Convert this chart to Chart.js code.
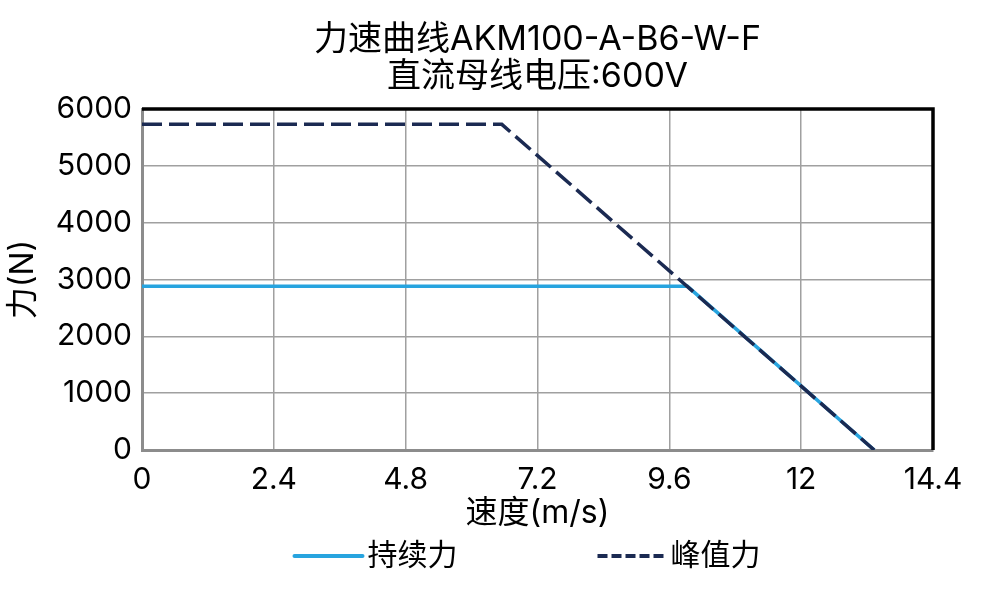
<!DOCTYPE html>
<html>
<head>
<meta charset="utf-8">
<script src="https://cdn.jsdelivr.net/npm/chart.js@4.4.1/dist/chart.umd.min.js"></script>
<style>
  html, body { margin: 0; padding: 0; background: #fff; }
  #wrap { width: 996px; height: 597px; }
</style>
</head>
<body>
<div id="wrap"><canvas id="myChart"></canvas></div>
<script>
const titleLines = ["力速曲线AKM100-A-B6-W-F", "直流母线电压:600V"];
const xAxisTitle = "速度(m/s)";
const yAxisTitle = "力(N)";
const seriesNames = ["持续力", "峰值力"];

const xTicks = [0, 2.4, 4.8, 7.2, 9.6, 12, 14.4];
const xTickLabels = ["0", "2.4", "4.8", "7.2", "9.6", "12", "14.4"];
const yTicks = [0, 1000, 2000, 3000, 4000, 5000, 6000];
const yTickLabels = ["0", "1000", "2000", "3000", "4000", "5000", "6000"];

// speed (m/s) / force (N)
const continuousSpeed = [0, 9.93, 13.33];
const continuousForce = [2880, 2880, 0];
const peakSpeed = [0, 6.55, 13.33];
const peakForce = [5730, 5730, 0];

const FONT = 'Inter, "Noto Sans CJK SC", sans-serif';
const continuousColor = "#27a4df";
const peakColor = "#1b2a52";

function toPoints(xs, ys) {
  return xs.map((x, i) => ({ x: x, y: ys[i] }));
}

// black frame on top and right, like the source plot
const framePlugin = {
  id: "frame",
  beforeDatasetsDraw(chart) {
    const { ctx, chartArea } = chart;
    ctx.save();
    ctx.strokeStyle = "#000";
    ctx.lineWidth = 3.5;
    ctx.beginPath();
    ctx.moveTo(chartArea.left, chartArea.top);
    ctx.lineTo(chartArea.right, chartArea.top);
    ctx.lineTo(chartArea.right, chartArea.bottom);
    ctx.stroke();
    ctx.restore();
  },
};

const textPlugin = {
  id: "titleAndLegend",
  afterDraw(chart) {
    const { ctx, chartArea } = chart;
    const cx = (chartArea.left + chartArea.right) / 2;
    ctx.save();
    ctx.fillStyle = "#000";
    ctx.textBaseline = "middle";

    // title, two lines
    ctx.font = "34px " + FONT;
    ctx.textAlign = "center";
    ctx.fillText(titleLines[0], cx, 40);
    ctx.fillText(titleLines[1], cx, 77);

    // legend
    ctx.font = "30px " + FONT;
    ctx.textAlign = "left";
    const lineLen = 68;
    const textGap = 5;
    const itemGap = 140;
    const w1 = ctx.measureText(seriesNames[0]).width;
    const w2 = ctx.measureText(seriesNames[1]).width;
    const total = lineLen + textGap + w1 + itemGap + lineLen + textGap + w2;
    const y = 556;
    let x = cx - 10 - total / 2;

    ctx.strokeStyle = continuousColor;
    ctx.lineWidth = 4;
    ctx.lineCap = "round";
    ctx.beginPath();
    ctx.moveTo(x, y);
    ctx.lineTo(x + lineLen, y);
    ctx.stroke();
    ctx.fillText(seriesNames[0], x + lineLen + textGap, y);

    x += lineLen + textGap + w1 + itemGap;
    ctx.strokeStyle = peakColor;
    ctx.lineCap = "butt";
    ctx.setLineDash([10, 4]);
    ctx.beginPath();
    ctx.moveTo(x, y);
    ctx.lineTo(x + lineLen, y);
    ctx.stroke();
    ctx.setLineDash([]);
    ctx.fillText(seriesNames[1], x + lineLen + textGap, y);
    ctx.restore();
  },
};

const ctx = document.getElementById("myChart");

const myChart = new Chart(ctx, {
  type: "line",
  data: {
    datasets: [
      {
        label: seriesNames[0],
        data: toPoints(continuousSpeed, continuousForce),
        borderColor: continuousColor,
        borderWidth: 3.5,
        pointRadius: 0,
        tension: 0,
        order: 2,
      },
      {
        label: seriesNames[1],
        data: toPoints(peakSpeed, peakForce),
        borderColor: peakColor,
        borderWidth: 3.5,
        borderDash: [20, 7],
        pointRadius: 0,
        tension: 0,
        order: 1,
      },
    ],
  },
  plugins: [framePlugin, textPlugin],
  options: {
    responsive: true,
    maintainAspectRatio: false,
    animation: false,
    layout: {
      padding: { top: 109, right: 63, bottom: 62, left: 0 },
    },
    plugins: {
      legend: { display: false },
      title: { display: false },
      tooltip: { enabled: false },
    },
    scales: {
      x: {
        type: "linear",
        min: 0,
        max: 14.4,
        afterBuildTicks: (scale) => {
          scale.ticks = xTicks.map((v) => ({ value: v }));
        },
        afterFit: (scale) => {
          scale.height = 85;
        },
        ticks: {
          padding: 12,
          color: "#000",
          font: { family: FONT, size: 30 },
          maxRotation: 0,
          callback: (value, index) => xTickLabels[index],
        },
        grid: { color: "#a0a0a0", lineWidth: 1.5, drawTicks: false },
        border: { color: "#8c8c8c", width: 3 },
        title: {
          display: true,
          text: xAxisTitle,
          color: "#000",
          font: { family: FONT, size: 32 },
          padding: { top: 0, bottom: 2 },
        },
      },
      y: {
        min: 0,
        max: 6000,
        afterBuildTicks: (scale) => {
          scale.ticks = yTicks.map((v) => ({ value: v }));
        },
        afterFit: (scale) => {
          scale.width = 142;
        },
        ticks: {
          padding: 10,
          color: "#000",
          font: { family: FONT, size: 30 },
          callback: (value, index) => yTickLabels[index],
        },
        grid: { color: "#a0a0a0", lineWidth: 1.5, drawTicks: false },
        border: { color: "#8c8c8c", width: 3 },
        title: {
          display: true,
          text: yAxisTitle,
          color: "#000",
          font: { family: FONT, size: 32 },
          padding: { top: 4, bottom: 0 },
        },
      },
    },
  },
});
</script>
</body>
</html>
